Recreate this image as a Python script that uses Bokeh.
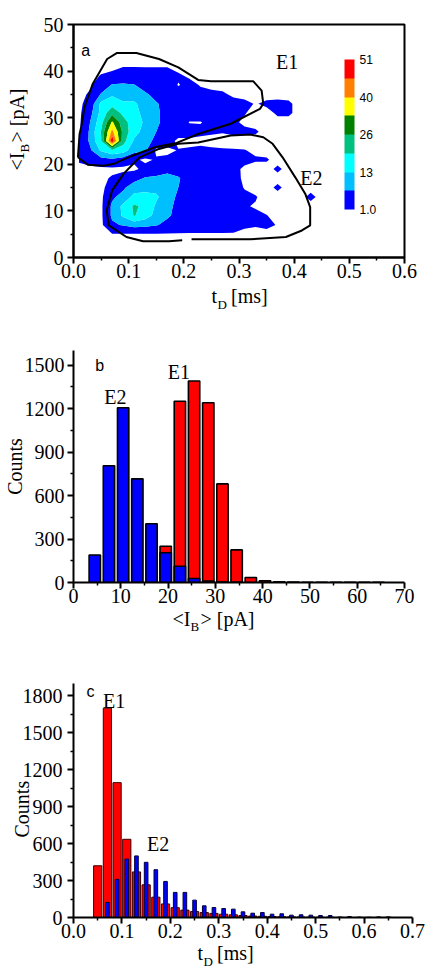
import numpy as np
from bokeh.plotting import figure
from bokeh.models import (Range1d, FixedTicker, NumeralTickFormatter, Label, Title,
                          ColorBar, LinearColorMapper)
from bokeh.layouts import column
from bokeh.embed import file_html
from bokeh.resources import INLINE

NAN = float("nan")

# ---------------- panel a : event density (counts per cell) ----------------
grid_x = [0.01, 0.03, 0.05, 0.07, 0.09, 0.11, 0.13, 0.15, 0.17, 0.19, 0.21, 0.23,
          0.25, 0.27, 0.29, 0.31, 0.33, 0.35, 0.37, 0.39, 0.41, 0.43, 0.45, 0.47]
grid_y = [1, 3, 5, 7, 9, 11, 13, 15, 17, 19, 21, 23, 25, 27, 29, 31, 33, 35, 37, 39, 41, 43, 45, 47]
density = [
    [0]*24,
    [0]*24,
    [0, 0, 0, 0.7, 0.7, 0.7, 0.7, 0.7, 0.7, 0.7, 0.7, 0.7, 0.7, 0.7, 0.7, 0.3, 0, 0, 0, 0, 0, 0, 0, 0],
    [0, 0, 0, 6, 7.5, 9, 8.5, 7.5, 5, 4, 3, 3, 3, 3, 2.5, 1.5, 1.3, 1.8, 0.8, 0, 0, 0, 0, 0],
    [0, 0, 0, 8, 14, 20, 16, 11, 8, 5, 4, 4, 4, 3.5, 3, 2, 1.5, 1.1, 0, 0, 0, 0, 0, 0],
    [0, 0, 0, 8, 14.5, 20.5, 18, 12, 9, 5, 4, 4, 4, 3.5, 3, 1.2, 0.8, 0, 0, 0, 0, 0, 0, 0],
    [0, 0, 0, 6, 9, 15, 15, 14, 9.5, 6, 4, 4, 4, 3.5, 3, 1.8, 1.2, 0, 0, 0, 0, 1.8, 0, 0],
    [0, 0, 0, 3, 6, 10, 11, 11, 10, 7, 4, 4, 4, 3, 2.5, 0.8, 0, 0, 1.6, 0, 0, 0, 0, 0],
    [0, 0, 0, 1.5, 3, 5, 7.5, 8, 9, 7.6, 4, 4, 4, 3, 2, 0.5, 0, 0, 0, 0, 0, 0, 0, 0],
    [0, 0, 0, 0, 0, 0, 2.5, 4, 5, 4, 3.5, 3.5, 3, 2.5, 1.5, 0.7, 0, 0, 1.6, 0, 0, 0, 0, 0],
    [1.5, 3, 5, 6, 4, 2, 0, 1.5, 2, 2.5, 3, 3, 3, 2.5, 2, 1.5, 1.3, 1.3, 0, 0, 0, 0, 0, 0],
    [2, 6, 14, 18, 16, 9, 8, 0, 0, 1.2, 1.5, 2, 1.5, 1.3, 1.2, 1.1, 0.5, 0, 0, 0, 0, 0, 0, 0],
    [1.2, 8, 19, 50, 22, 12, 10, 5, 3, 0, 0, 0, 0, 0, 0, 0, 0, 0, 0, 0, 0, 0, 0, 0],
    [0, 8, 20, 42, 24, 15, 11, 7, 4, 3, 3, 2, 1.5, 1.2, 1.6, 1.6, 1.4, 0, 0, 0, 0, 0, 0, 0],
    [0, 7, 17, 34, 22, 16, 12, 8, 5, 4, 0.8, 0.8, 2, 1.5, 1.5, 0.5, 0, 0, 0, 0, 0, 0, 0, 0],
    [0, 5, 15, 24, 18, 15, 11, 8, 5, 4, 3, 3, 3, 3, 2.5, 1.2, 0, 0, 1.5, 1.5, 0, 0, 0, 0],
    [0, 3, 14.5, 17, 14, 14, 10, 7.5, 5, 4, 4, 3.5, 3.5, 3, 2, 1.8, 0.8, 1.6, 1.8, 1.5, 0, 0, 0, 0],
    [0, 1.5, 7.5, 12, 10, 10, 8, 5, 4, 3, 4, 2, 2, 1.5, 0.5, 0, 0, 0, 0, 0, 0, 0, 0, 0],
    [0, 0.5, 3, 7.5, 7.8, 7.3, 4, 3, 3, 0.8, 2, 0.8, 0, 0, 0, 0, 0, 0, 0, 0, 0, 0, 0, 0],
    [0, 0, 1.2, 2, 3, 3, 2, 2, 2, 1.5, 0.5, 0, 0, 0, 0, 0, 0, 0, 0, 0, 0, 0, 0, 0],
    [0, 0, 0, 0, 0.9, 0.9, 0.9, 0.9, 0.9, 0, 0, 0, 0, 0, 0, 0, 0, 0, 0, 0, 0, 0, 0, 0],
    [0]*24,
    [0]*24,
    [0]*24,
]
levels = [1.0, 7, 13, 19.5, 26, 33, 40, 45.5, 51]
band_colors = ["#0000FF", "#00BFFF", "#00FFFF", "#00C080", "#008000", "#FFFF00", "#FF8000", "#FF0000"]

# hand-drawn population outlines
e1_x = [0.008, 0.011, 0.014, 0.02, 0.035, 0.061, 0.079, 0.114, 0.155, 0.19, 0.226, 0.249,
        0.326, 0.341, 0.344, 0.338, 0.285, 0.226, 0.185, 0.149, 0.108, 0.073, 0.055, 0.026, 0.008]
e1_y = [21.5, 26.5, 28.0, 32.3, 37.3, 42.6, 43.9, 43.9, 42.6, 40.8, 38.1, 37.8,
        37.8, 35.8, 33.0, 31.9, 28.7, 26.5, 24.5, 23.7, 21.9, 20.1, 19.7, 19.9, 21.5]
e2_x = [0.06, 0.064, 0.096, 0.126, 0.173, 0.197, NAN, 0.214, 0.32, 0.385, 0.414, 0.429, 0.429,
        0.42, 0.402, 0.379, 0.361, 0.344, 0.32, 0.285, 0.226, 0.19, 0.155, 0.12, 0.091, 0.07, 0.06]
e2_y = [10.1, 6.9, 4.4, 3.5, 3.5, 3.7, NAN, 3.9, 3.9, 4.4, 5.8, 6.9, 10.8,
        13.7, 17.2, 21.5, 24.4, 25.8, 26.4, 26.2, 24.7, 24.4, 23.3, 21.5, 18.0, 14.4, 10.1]

a_xticks = [0.0, 0.1, 0.2, 0.3, 0.4, 0.5, 0.6]
a_xminor = [0.05, 0.15, 0.25, 0.35, 0.45, 0.55]
a_yticks = [0, 10, 20, 30, 40, 50]
a_yminor = [5, 15, 25, 35, 45]

# ---------------- panel b : <I_B> histogram ----------------
ib_centers = [4.5, 7.5, 10.5, 13.5, 16.5, 19.5, 22.5, 25.5, 28.5, 31.5, 34.5, 37.5,
              40.5, 43.5, 46.5, 49.5, 52.5, 55.5, 58.5, 61.5, 64.5]
ib_e1 = [0, 0, 0, 0, 10, 250, 1250, 1390, 1240, 680, 225, 35, 12, 4, 3, 2, 2, 1, 1, 1, 1]
ib_e2 = [190, 805, 1205, 715, 405, 205, 112, 28, 10, 3, 1, 0, 0, 0, 0, 0, 0, 0, 0, 0, 0]
b_xticks = [0, 10, 20, 30, 40, 50, 60, 70]
b_xminor = [5, 15, 25, 35, 45, 55, 65]
b_yticks = [0, 300, 600, 900, 1200, 1500]
b_yminor = [150, 450, 750, 1050, 1350]

# ---------------- panel c : t_D histogram ----------------
td_centers = [0.05, 0.07, 0.09, 0.11, 0.13, 0.15, 0.17, 0.19, 0.21, 0.23, 0.25, 0.27, 0.29,
              0.31, 0.33, 0.35, 0.37, 0.39, 0.41, 0.43, 0.45, 0.47, 0.49, 0.51, 0.53, 0.55,
              0.57, 0.59, 0.61, 0.63, 0.65]
td_e1 = [420, 1700, 1095, 635, 370, 265, 165, 110, 80, 60, 48, 40, 33, 27, 22, 16, 12, 10,
         8, 6, 5, 4, 3, 2, 2, 1, 1, 1, 1, 1, 1]
td_e2 = [0, 122, 310, 475, 500, 448, 388, 293, 204, 204, 141, 95, 81, 73, 68, 46, 35, 40,
         27, 30, 19, 22, 19, 16, 16, 4, 8, 3, 2, 5, 5]
c_xticks = [0.0, 0.1, 0.2, 0.3, 0.4, 0.5, 0.6, 0.7]
c_xminor = [0.05, 0.15, 0.25, 0.35, 0.45, 0.55, 0.65]
c_yticks = [0, 300, 600, 900, 1200, 1500, 1800]
c_yminor = [150, 450, 750, 1050, 1350, 1650]

SERIF = "Liberation Serif"
SANS = "Liberation Sans"


def style_axes(p, xt, xm, yt, ym, xfmt=None, std_x=0, std_y=4):
    for ax in (p.xaxis[0], p.yaxis[0]):
        ax.axis_line_width = 2
        ax.major_tick_line_width = 2
        ax.minor_tick_line_width = 1.5
        ax.major_tick_out = 6
        ax.major_tick_in = 0
        ax.minor_tick_out = 3
        ax.minor_tick_in = 0
        ax.major_label_text_font = SERIF
        ax.major_label_text_font_size = "20px"
        ax.major_label_text_color = "black"
        ax.axis_label = None
    p.xaxis[0].ticker = FixedTicker(ticks=xt, minor_ticks=xm)
    p.yaxis[0].ticker = FixedTicker(ticks=yt, minor_ticks=ym)
    if xfmt:
        p.xaxis[0].formatter = NumeralTickFormatter(format=xfmt)
    p.xaxis[0].major_label_standoff = std_x
    p.yaxis[0].major_label_standoff = std_y
    p.xgrid.visible = False
    p.ygrid.visible = False


def title(p, place, text, size=20, align="left", offset=0, standoff=0, valign="bottom"):
    p.add_layout(Title(text=text, align=align, offset=offset, standoff=standoff,
                       vertical_align=valign,
                       text_font=SERIF, text_font_size=f"{size}px", text_font_style="normal",
                       text_color="black"), place)


def txt(p, x, y, text, size=20, font=SERIF):
    p.add_layout(Label(x=x, y=y, text=text, text_font=font, text_font_size=f"{size}px",
                       text_align="left", text_baseline="alphabetic", text_color="black"))


GAP = "\u2002"
GAP_T = "\u2002\u2009"

# ================= figure a =================
pa = figure(width=422, height=319, x_range=Range1d(0, 0.6), y_range=Range1d(0, 50),
            output_backend="svg", toolbar_location=None,
            min_border_left=64, min_border_right=18, min_border_top=24, min_border_bottom=62)
pa.outline_line_color = "black"
pa.outline_line_width = 2
style_axes(pa, a_xticks, a_xminor, a_yticks, a_yminor, "0.0", std_x=0, std_y=4)

pa.contour(x=grid_x, y=grid_y, z=np.array(density, dtype=float), levels=levels,
           fill_color=band_colors, line_color=None)
pa.line(e1_x, e1_y, line_color="black", line_width=2)
pa.line(e2_x, e2_y, line_color="black", line_width=2)

mapper = LinearColorMapper(palette=band_colors, low=0, high=len(band_colors))
tick_idx = [0, 2, 4, 6, 8]
overrides = {i: (f"{levels[i]:.1f}" if i == 0 else f"{levels[i]:g}") for i in tick_idx}
cb = ColorBar(color_mapper=mapper, ticker=FixedTicker(ticks=tick_idx),
              major_label_overrides=overrides, width=10, height=150, location=(271, 48),
              padding=0, margin=0, bar_line_color=None, major_tick_line_color=None,
              minor_tick_line_color=None, border_line_color=None, background_fill_alpha=0,
              label_standoff=5, major_label_text_font=SANS, major_label_text_font_size="12px",
              major_label_text_color="black", orientation="vertical")
pa.add_layout(cb)

txt(pa, 0.014, 44.4, "a", size=16, font=SANS)
txt(pa, 0.367, 41.9, "E1")
txt(pa, 0.411, 17.1, "E2")
# axis titles: main text then subscript
title(pa, "below", "t" + GAP_T + "[ms]", offset=138, standoff=8, valign="top")
title(pa, "below", "D", size=13, offset=144, standoff=-32, valign="top")
title(pa, "left", "B", size=13, offset=105, standoff=17)
title(pa, "left", "<I" + GAP + "> [pA]", offset=87, standoff=-42)

# ================= figure b =================
pb = figure(width=422, height=321, x_range=Range1d(0, 70), y_range=Range1d(0, 1600),
            output_backend="svg", toolbar_location=None,
            min_border_left=66, min_border_right=13, min_border_top=31, min_border_bottom=58)
pb.outline_line_color = None
style_axes(pb, b_xticks, b_xminor, b_yticks, b_yminor, None, std_x=0, std_y=3)
b1 = [(c, v) for c, v in zip(ib_centers, ib_e1) if v > 0]
b2 = [(c, v) for c, v in zip(ib_centers, ib_e2) if v > 0]
pb.vbar(x=[c for c, _ in b1], top=[v for _, v in b1], width=2.4, bottom=0,
        fill_color="#FF0000", line_color="black", line_width=1.6)
pb.vbar(x=[c for c, _ in b2], top=[v for _, v in b2], width=2.4, bottom=0,
        fill_color="#0000FF", line_color="black", line_width=1.6)
txt(pb, 4.6, 1498, "b", size=16, font=SANS)
txt(pb, 19.95, 1454, "E1")
txt(pb, 6.5, 1282, "E2")
title(pb, "below", "<I" + GAP + "> [pA]", offset=99, standoff=4, valign="top")
title(pb, "below", "B", size=13, offset=117, standoff=-29, valign="top")
title(pb, "left", "Counts", align="center", standoff=-9)

# ================= figure c =================
pc = figure(width=430, height=330, x_range=Range1d(0, 0.7), y_range=Range1d(0, 1900),
            output_backend="svg", toolbar_location=None,
            min_border_left=73, min_border_right=15, min_border_top=43, min_border_bottom=53)
pc.outline_line_color = None
style_axes(pc, c_xticks, c_xminor, c_yticks, c_yminor, "0.0", std_x=0, std_y=5)
c1 = [(c, v) for c, v in zip(td_centers, td_e1) if v > 0]
c2 = [(c, v) for c, v in zip(td_centers, td_e2) if v > 0]
pc.vbar(x=[c for c, _ in c1], top=[v for _, v in c1], width=0.017, bottom=0,
        fill_color="#FF0000", line_color="#3a0000", line_width=1)
pc.vbar(x=[c for c, _ in c2], top=[v for _, v in c2], width=0.0075, bottom=0,
        fill_color="#0000FF", line_color="#00003a", line_width=1)
txt(pc, 0.027, 1835, "c", size=16, font=SANS)
txt(pc, 0.061, 1754, "E1")
txt(pc, 0.152, 595, "E2")
title(pc, "below", "t" + GAP_T + "[ms]", offset=124, standoff=3, valign="top")
title(pc, "below", "D", size=13, offset=130, standoff=-28, valign="top")
title(pc, "left", "Counts", offset=80, standoff=-26)

layout = column(pa, pb, pc)
open("out.html", "w").write(file_html(layout, INLINE))
